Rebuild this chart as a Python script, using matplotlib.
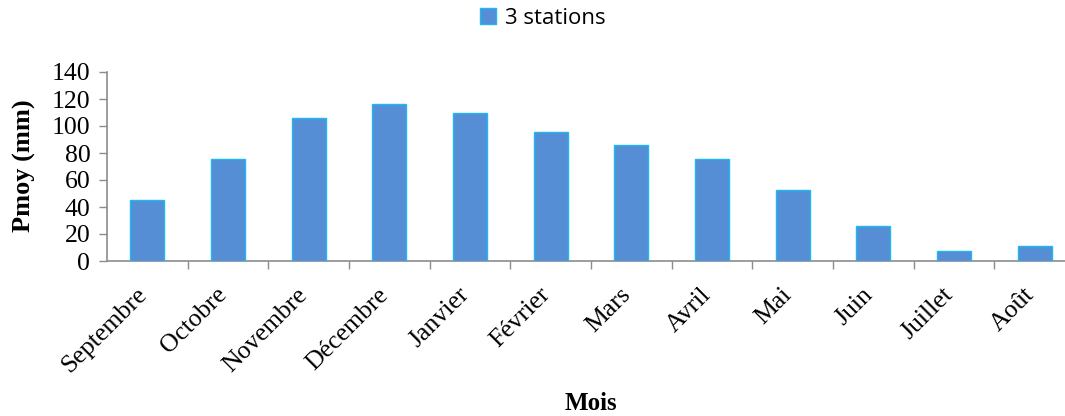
import numpy as np
import matplotlib
matplotlib.use('Agg')
import matplotlib.pyplot as plt

# mean monthly precipitation over the 3 stations
mois = ['Septembre', 'Octobre', 'Novembre', 'Décembre', 'Janvier', 'Février',
        'Mars', 'Avril', 'Mai', 'Juin', 'Juillet', 'Août']
pmoy = [44.9, 75.6, 105.9, 116.5, 109.9, 95.6, 85.9, 75.6, 52.8, 26.2, 7.2, 10.9]
yticks = [0, 20, 40, 60, 80, 100, 120, 140]

plt.rcParams['font.family'] = ['Liberation Serif', 'DejaVu Serif']
axis_grey = '#8c8c8c'

fig = plt.figure(figsize=(10.65, 4.16), dpi=100)
ax = fig.add_axes([107 / 1065, 155 / 416, 968 / 1065, 189 / 416])

x = np.arange(len(mois))
ax.bar(x, pmoy, width=0.42, color='#558ed5', edgecolor='#1fb8f0',
       linewidth=1.0, label='3 stations', zorder=3)

ax.set_xlim(-0.5, len(mois) - 0.5)
ax.set_ylim(0, 140)
ax.set_yticks(yticks)
ax.set_yticklabels([str(v) for v in yticks], fontsize=18.5)

# category labels at centers, tick marks on the boundaries
ax.set_xticks(x)
ax.set_xticklabels(mois, fontsize=18.5, rotation=45, ha='right',
                   va='baseline', rotation_mode='anchor')
ax.tick_params(axis='x', which='major', length=0, pad=25)
ax.set_xticks(np.arange(0.5, len(mois) - 0.5, 1.0), minor=True)
ax.tick_params(axis='x', which='minor', length=6, width=1, color=axis_grey,
               direction='out')
ax.tick_params(axis='y', length=6, width=1, color=axis_grey, pad=6)

for side in ['top', 'right']:
    ax.spines[side].set_visible(False)
for side in ['left', 'bottom']:
    ax.spines[side].set_color(axis_grey)
    ax.spines[side].set_linewidth(1.2)

fig.text(24 / 1065, 1 - 166 / 416, 'Pmoy (mm)', fontsize=19,
         fontweight='bold', rotation=90, ha='center', va='center')
fig.text(591 / 1065, 1 - 403 / 416, 'Mois', fontsize=18, fontweight='bold',
         ha='center', va='center')

fig.legend(loc='center', bbox_to_anchor=(543 / 1065, 1 - 18 / 416),
           frameon=False, handlelength=0.7, handleheight=0.7,
           handletextpad=0.4,
           prop={'family': 'Open Sans', 'size': 16})

fig.savefig('out.png', dpi=100)
